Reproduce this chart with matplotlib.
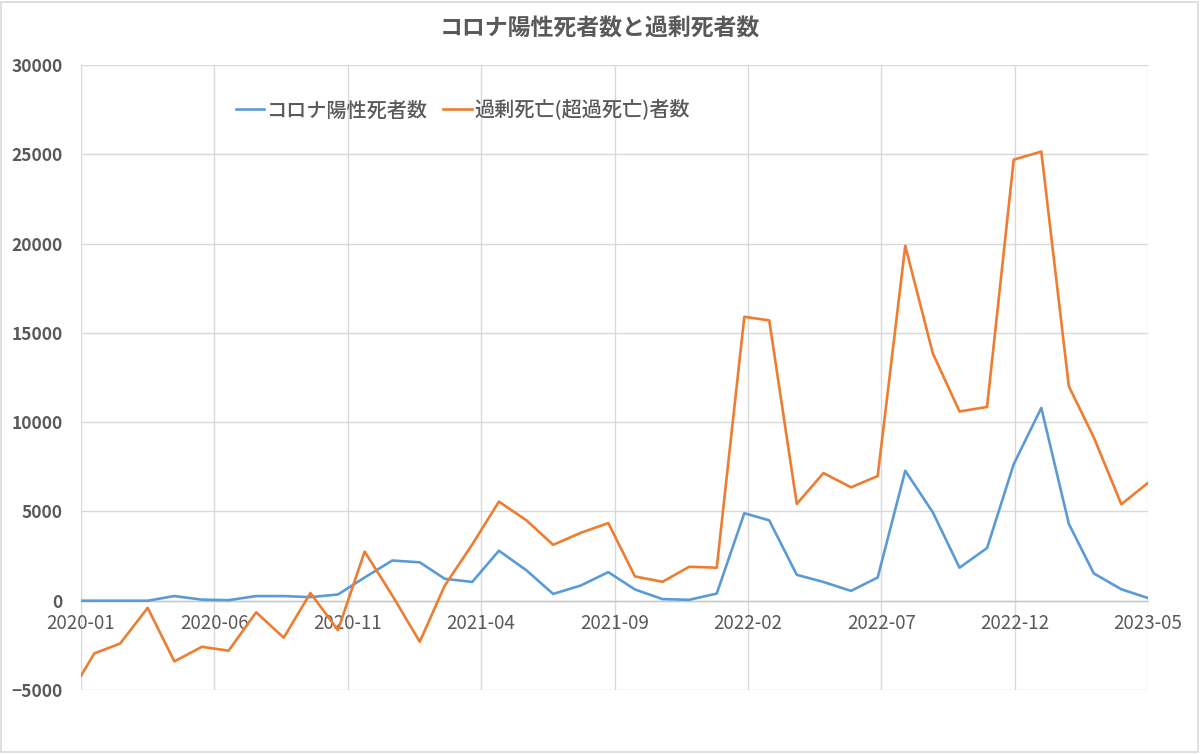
import numpy as np
import pandas as pd
import matplotlib
matplotlib.use("Agg")
import matplotlib.pyplot as plt
import matplotlib.dates as mdates
from matplotlib.patches import Rectangle

plt.rcParams['font.family'] = ['Noto Sans CJK JP', 'DejaVu Sans']

# monthly data, 2020-01 .. 2023-05
months = pd.date_range("2020-01-01", "2023-05-01", freq="MS")

covid_deaths = [
    0, 0, 0, 0, 260, 60, 30, 260, 260, 200,
    350, 1300, 2250, 2150, 1230, 1050, 2800, 1700, 380, 850,
    1600, 630, 90, 50, 400, 4900, 4500, 1450, 1050, 550,
    1300, 7280, 4950, 1850, 2950, 7650, 10800, 4300, 1530, 640,
    150,
]
excess_deaths = [
    -5540, -2950, -2400, -400, -3400, -2580, -2800, -650, -2070, 430,
    -1650, 2750, 300, -2300, 840, 3150, 5550, 4500, 3130, 3800,
    4350, 1360, 1060, 1900, 1850, 15900, 15700, 5420, 7150, 6350,
    6980, 19870, 13850, 10600, 10850, 24700, 25150, 12000, 9150, 5400,
    6600,
]

series_labels = ["コロナ陽性死者数", "過剰死亡(超過死亡)者数"]
title = "コロナ陽性死者数と過剰死者数"
y_ticks = [-5000, 0, 5000, 10000, 15000, 20000, 25000, 30000]

# Excel date axis: 1200 days ending at the last month, major unit 150 days
x_end = pd.Timestamp("2023-05-01")
x_start = x_end - pd.Timedelta(days=1200)
x_ticks = [x_start + pd.Timedelta(days=150 * k) for k in range(9)]

text_col = "#595959"
grid_col = "#d9d9d9"

fig = plt.figure(figsize=(12, 7.54), dpi=100)
ax = fig.add_axes([81 / 1200, 1 - 690 / 754, (1148 - 81) / 1200, (690 - 65) / 754])

ax.plot(months, covid_deaths, color="#5b9bd5", lw=1.9, label=series_labels[0], zorder=3)
ax.plot(months, excess_deaths, color="#ed7d31", lw=1.9, label=series_labels[1], zorder=3)

ax.set_xlim(x_start, x_end)
ax.set_ylim(-5000, 30000)
ax.set_yticks(y_ticks)
ax.set_xticks(x_ticks)
ax.xaxis.set_major_formatter(mdates.DateFormatter("%Y-%m"))

ax.grid(True, color=grid_col, lw=1.0, zorder=0)
for s in ["left", "right", "top"]:
    ax.spines[s].set_visible(False)
ax.spines["bottom"].set_position(("data", 0))
ax.spines["bottom"].set_color("#c8c8c8")
ax.spines["bottom"].set_linewidth(1.0)

ax.tick_params(axis="x", length=0, pad=9, labelsize=13.5, labelcolor=text_col)
ax.tick_params(axis="y", length=0, pad=13, labelsize=12.5, labelcolor=text_col)
for lab in ax.get_yticklabels():
    lab.set_fontweight("bold")

fig.text(0.5, 1 - 29 / 754, title, ha="center", va="center",
         fontsize=16.5, fontweight="bold", color=text_col)

leg = ax.legend(loc="center left", bbox_to_anchor=(236 / 1200, 1 - 110 / 754),
                bbox_transform=fig.transFigure, ncol=2, frameon=False,
                fontsize=14.5, handlelength=1.4, handletextpad=0.15,
                columnspacing=0.75, borderpad=0, borderaxespad=0)
for t in leg.get_texts():
    t.set_color(text_col)
    t.set_fontweight("medium")

fig.patches.append(Rectangle((0.001, 0.002), 0.997, 0.996, transform=fig.transFigure,
                             fill=False, edgecolor=grid_col, lw=1.2))

fig.savefig("out.png", dpi=100)
